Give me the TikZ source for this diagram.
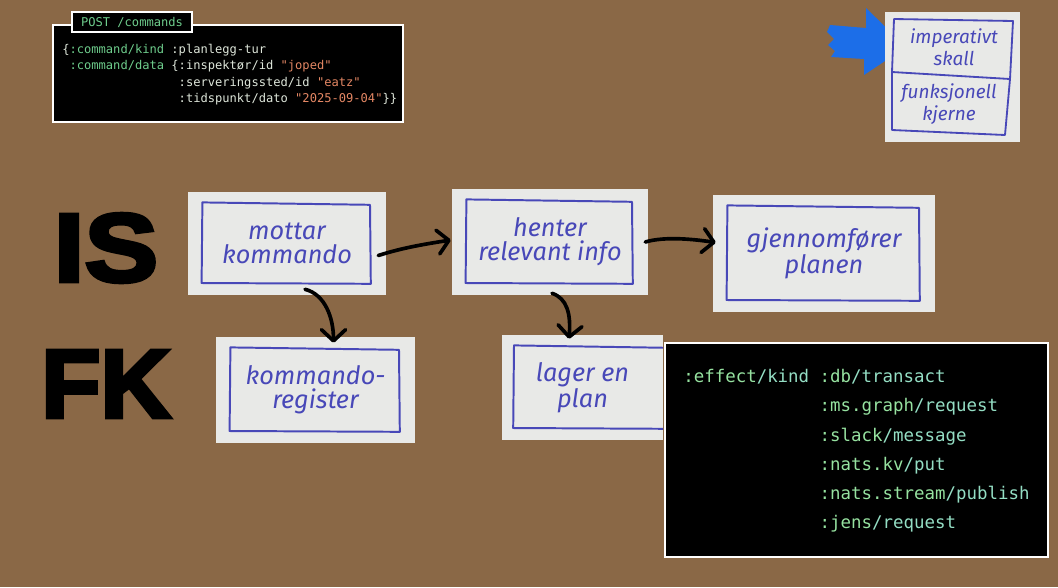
\documentclass[tikz,border=0pt]{standalone}
\usepackage{fontspec}
\usetikzlibrary{arrows.meta}
\setmainfont{Liberation Sans}
\newfontfamily\codefont{DejaVu Sans Mono}
\newfontfamily\handfont{Fira Sans}
\newfontfamily\heavyfont{Liberation Sans}[FakeBold=4, FakeStretch=1.14]
\newfontfamily\heavyfontnarrow{Liberation Sans}[FakeBold=4]

\definecolor{cork}{RGB}{138,104,70}
\definecolor{paper}{RGB}{232,233,231}
\definecolor{ink}{RGB}{72,72,184}
\definecolor{codegreen}{RGB}{110,205,140}
\definecolor{codeplain}{RGB}{222,230,218}
\definecolor{codestr}{RGB}{228,135,100}
\definecolor{fxns}{RGB}{150,226,160}
\definecolor{fxname}{RGB}{148,222,196}
\definecolor{marker}{RGB}{28,110,232}

\newcommand\kwd[1]{\textcolor{codegreen}{#1}}
\newcommand\str[1]{\textcolor{codestr}{#1}}
\newcommand\fx[2]{\textcolor{fxns}{#1}\textcolor{fxname}{#2}}

\tikzset{
  card/.style={fill=paper, inner sep=0pt, align=center, text=ink,
    font=\handfont\itshape\fontsize{18}{17}\selectfont,
    path picture={
      \draw[ink, line width=1.4pt, line join=round]
        ([shift={(3.6mm,-2.6mm)}]path picture bounding box.north west) --
        ([shift={(-4mm,-3.2mm)}]path picture bounding box.north east) --
        ([shift={(-3.8mm,2.8mm)}]path picture bounding box.south east) --
        ([shift={(3.4mm,3mm)}]path picture bounding box.south west) -- cycle;}},
  opencard/.style={card, path picture={
      \draw[ink, line width=1.4pt, line join=round]
        ([shift={(1mm,-3.2mm)}]path picture bounding box.north east) --
        ([shift={(3mm,-2.6mm)}]path picture bounding box.north west) --
        ([shift={(2.8mm,3mm)}]path picture bounding box.south west) --
        ([shift={(1mm,2.8mm)}]path picture bounding box.south east);}},
  note/.style={align=center, text=ink, inner sep=0pt,
    font=\handfont\itshape\fontsize{13.5}{15.5}\selectfont},
  codebox/.style={fill=black, draw=white, line width=1.6pt, inner sep=0pt},
  conn/.style={line width=2.6pt, line cap=round,
    -{Straight Barb[length=2.8mm,width=6mm,round]}},
  big/.style={inner sep=0pt, font=\heavyfont\bfseries\fontsize{69}{69}\selectfont},
}

\begin{document}
\begin{tikzpicture}[x=0.25mm, y=-0.25mm]
    \fill[cork] (0,0) rectangle (1058,587);
    \useasboundingbox (0,0) rectangle (1058,587);

    % request
    \node[codebox, minimum width=87.5mm, minimum height=24.25mm] (post) at (228,73.5) {};
    \node[codebox, minimum width=30mm, minimum height=5mm, text=codegreen,
        font=\codefont\fontsize{8.6}{10}\selectfont] (route) at (132,22) {POST /commands};
    \node[anchor=north west, inner sep=0pt, align=left, text=codeplain,
        font=\codefont\fontsize{8.6}{11.6}\selectfont] (body) at (62,44)
        {\{\kwd{:command/kind} :planlegg-tur\\
         \hspace*{0.602em}\kwd{:command/data} \{:inspektør/id \str{"joped"}\\
         \hspace*{9.632em}:serveringssted/id \str{"eatz"}\\
         \hspace*{9.632em}:tidspunkt/dato \str{"2025-09-04"}\}\}};

    % legend
    \fill[marker] (830,25) -- (866,28) -- (866,8) -- (906,47) -- (864,75) -- (864,59)
        -- (831,57) -- (835,51) -- (828,45) -- (834,39) -- (827,32) -- cycle;
    \node[fill=paper, minimum width=33.75mm, minimum height=32.5mm, inner sep=0pt] (modell) at (952.5,77) {};
    \draw[ink, line width=1.3pt, line join=round] (894,19) -- (1013,21) -- (1010,79) -- (892,72) -- cycle;
    \draw[ink, line width=1.3pt, line join=round] (892,72) -- (892,130) -- (1005,135) -- (1010,79);
    \node[note] (skall) at (954,47) {imperativt\\skall};
    \node[note] (kjerne) at (949,104) {funksjonell\\kjerne};

    \node[big] (is) at (106,248) {IS};
    \node[big, font=\heavyfontnarrow\bfseries\fontsize{69}{69}\selectfont] (fk) at (106,384) {FK};

    \node[card, minimum width=49.5mm, minimum height=25.75mm] (mottar) at (287,243.5) {mottar\\kommando};
    \node[card, minimum width=49mm, minimum height=26.5mm] (henter) at (550,242) {henter\\relevant info};
    \node[card, minimum width=55.5mm, minimum height=29.25mm] (plan) at (824,253.5) {gjennomfører\\planen};
    \node[card, minimum width=49.75mm, minimum height=26.5mm] (register) at (315.5,390) {kommando-\\register};
    \node[opencard, minimum width=40.25mm, minimum height=26.25mm] (lager) at (582.5,387.5) {lager en\\plan};

    \draw[conn] ([shift={(-8,12)}]mottar.east) .. controls +(25,-8) and +(-25,4) .. ([shift={(-1,-2)}]henter.west);
    \draw[conn] ([shift={(-3,0)}]henter.east) .. controls +(20,-6) and +(-20,-3) .. ([shift={(3,-11)}]plan.west);
    \draw[conn] ([shift={(18,-6)}]mottar.south) .. controls +(20,5) and +(0,-25) .. ([shift={(18,6)}]register.north);
    \draw[conn] ([shift={(2,-2)}]henter.south) .. controls +(15,5) and +(2,-25) .. ([shift={(-13.5,4)}]lager.north);

    % effects
    \node[codebox, line width=2pt, minimum width=95.75mm, minimum height=53.5mm] (effects) at (856.5,450) {};
    \node[anchor=north west, inner sep=0pt, align=left,
        font=\codefont\fontsize{12.4}{20.8}\selectfont] (kinds) at (683,369)
        {\fx{:effect}{/kind} \fx{:db}{/transact}\\
         \hspace*{7.826em}\fx{:ms.graph}{/request}\\
         \hspace*{7.826em}\fx{:slack}{/message}\\
         \hspace*{7.826em}\fx{:nats.kv}{/put}\\
         \hspace*{7.826em}\fx{:nats.stream}{/publish}\\
         \hspace*{7.826em}\fx{:jens}{/request}};
\end{tikzpicture}
\end{document}
